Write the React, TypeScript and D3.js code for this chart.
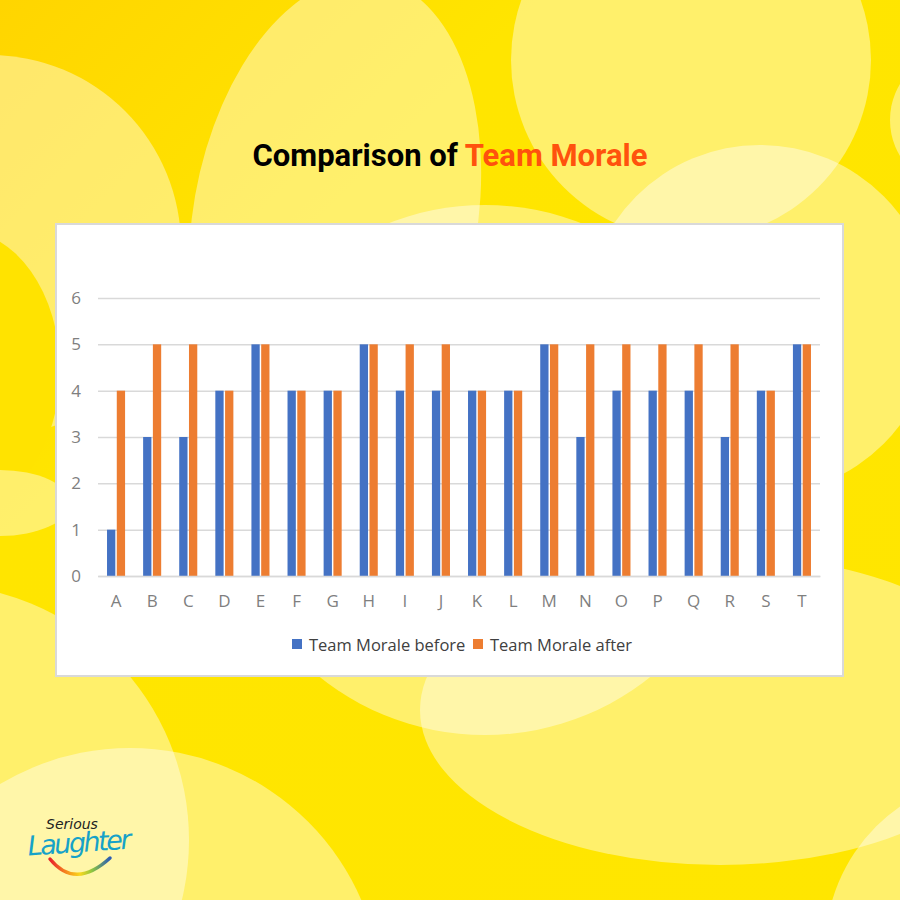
import { useEffect, useRef } from 'react';
import { scaleBand, scaleLinear, select, axisLeft, axisBottom } from 'd3';

// chart data
const categories = ['A', 'B', 'C', 'D', 'E', 'F', 'G', 'H', 'I', 'J', 'K', 'L', 'M', 'N', 'O', 'P', 'Q', 'R', 'S', 'T'];
const seriesNames = ['Team Morale before', 'Team Morale after'];
const moraleBefore = [1, 3, 3, 4, 5, 4, 4, 5, 4, 4, 4, 4, 5, 3, 4, 4, 4, 3, 4, 5];
const moraleAfter = [4, 5, 5, 4, 5, 4, 4, 5, 5, 5, 4, 4, 5, 5, 5, 5, 5, 5, 4, 5];
const yTicks = [0, 1, 2, 3, 4, 5, 6];

const seriesColors = ['#4472C4', '#ED7D31'];

// decorative background bubbles: [cx, cy, rx, ry, rotate, fill, opacity]
const bubbles: [number, number, number, number, number, string, number][] = [
  [-10, 246, 191, 191, 0, '#fff', 0.42],
  [-40, 370, 100, 140, 0, '#FFE300', 1],
  [0, 503, 70, 33, 0, '#fff', 0.42],
  [335, 220, 142, 245, 10, '#fff', 0.42],
  [691, 60, 180, 180, 0, '#fff', 0.42],
  [960, 120, 70, 70, 0, '#fff', 0.42],
  [760, 320, 175, 175, 0, '#fff', 0.42],
  [485, 470, 265, 265, 0, '#fff', 0.42],
  [-67, 840, 256, 256, 0, '#fff', 0.42],
  [130, 1000, 252, 252, 0, '#fff', 0.42],
  [720, 710, 300, 155, 0, '#fff', 0.42],
  [1000, 950, 175, 175, 0, '#fff', 0.42],
];

export default function App() {
  const svgRef = useRef<SVGSVGElement>(null);

  useEffect(() => {
    const el = svgRef.current;
    if (!el) return;
    const svg = select(el);
    svg.selectAll('*').remove();

    const W = 900,
      H = 900;

    // background
    const defs = svg.append('defs');
    const bg = defs
      .append('linearGradient')
      .attr('id', 'bg')
      .attr('x1', '0')
      .attr('y1', '0')
      .attr('x2', '1')
      .attr('y2', '1');
    bg.append('stop').attr('offset', '0').attr('stop-color', '#FFD500');
    bg.append('stop').attr('offset', '0.3').attr('stop-color', '#FFE500');
    bg.append('stop').attr('offset', '1').attr('stop-color', '#FFE600');

    const smile = defs
      .append('linearGradient')
      .attr('id', 'smile')
      .attr('x1', '0')
      .attr('y1', '0')
      .attr('x2', '1')
      .attr('y2', '0');
    [
      ['0', '#E8202A'],
      ['0.3', '#F7941D'],
      ['0.5', '#F9D71C'],
      ['0.7', '#8DC63F'],
      ['1', '#2B5BB5'],
    ].forEach(([o, c]) => smile.append('stop').attr('offset', o).attr('stop-color', c));

    svg.append('rect').attr('width', W).attr('height', H).attr('fill', 'url(#bg)');

    svg
      .append('g')
      .selectAll('ellipse')
      .data(bubbles)
      .join('ellipse')
      .attr('cx', (d) => d[0])
      .attr('cy', (d) => d[1])
      .attr('rx', (d) => d[2])
      .attr('ry', (d) => d[3])
      .attr('transform', (d) => `rotate(${d[4]},${d[0]},${d[1]})`)
      .attr('fill', (d) => d[5])
      .attr('opacity', (d) => d[6]);

    // title
    const title = svg
      .append('text')
      .attr('x', W / 2)
      .attr('y', 166)
      .attr('text-anchor', 'middle')
      .style('font-family', 'Roboto, sans-serif')
      .style('font-weight', '700')
      .style('font-size', '31px');
    title.append('tspan').attr('fill', '#000').text('Comparison of ');
    title.append('tspan').attr('fill', '#FF520D').text('Team Morale');

    // chart panel
    svg
      .append('rect')
      .attr('x', 56)
      .attr('y', 224)
      .attr('width', 787)
      .attr('height', 452)
      .attr('fill', '#fff')
      .attr('stroke', '#D9D9D9')
      .attr('stroke-width', 2);

    const left = 98,
      right = 820,
      top = 298,
      bottom = 576;

    const x0 = scaleBand<string>()
      .domain(categories)
      .range([left, right])
      .paddingInner(0.5)
      .paddingOuter(0.25);
    const x1 = scaleBand<string>()
      .domain(seriesNames)
      .range([0, x0.bandwidth()])
      .paddingInner(0.15);
    const y = scaleLinear().domain([0, 6]).range([bottom, top]);

    // gridlines + y labels
    const yAxis = svg
      .append('g')
      .attr('transform', `translate(${left},0)`)
      .call(
        axisLeft(y)
          .tickValues(yTicks)
          .tickSize(-(right - left))
          .tickPadding(17)
          .tickFormat((d) => String(d))
      );
    yAxis.select('.domain').remove();
    yAxis.selectAll('line').attr('stroke', '#D9D9D9').attr('stroke-width', 1.5);
    yAxis
      .selectAll('text')
      .attr('fill', '#7F7F7F')
      .style('font-family', '"Open Sans", sans-serif')
      .style('font-size', '17px');

    // bars
    const values = [moraleBefore, moraleAfter];
    const groups = svg
      .append('g')
      .selectAll('g')
      .data(categories)
      .join('g')
      .attr('transform', (d) => `translate(${x0(d)},0)`);
    groups
      .selectAll('rect')
      .data((_, i) => seriesNames.map((s, k) => ({ s, k, v: values[k][i] })))
      .join('rect')
      .attr('x', (d) => x1(d.s) ?? 0)
      .attr('width', x1.bandwidth())
      .attr('y', (d) => y(d.v))
      .attr('height', (d) => bottom - y(d.v))
      .attr('fill', (d) => seriesColors[d.k]);

    // x axis
    const xAxis = svg
      .append('g')
      .attr('transform', `translate(0,${bottom})`)
      .call(axisBottom(x0).tickSize(0).tickPadding(19));
    xAxis.select('.domain').attr('stroke', '#D9D9D9').attr('stroke-width', 1.5);
    xAxis
      .selectAll('text')
      .attr('fill', '#7F7F7F')
      .style('font-family', '"Open Sans", sans-serif')
      .style('font-size', '17px');

    // legend
    const legendX = [292, 473];
    const legend = svg
      .append('g')
      .selectAll('g')
      .data(seriesNames)
      .join('g')
      .attr('transform', (_, i) => `translate(${legendX[i]},639)`);
    legend
      .append('rect')
      .attr('width', 10)
      .attr('height', 10)
      .attr('fill', (_, i) => seriesColors[i]);
    legend
      .append('text')
      .attr('x', 17)
      .attr('y', 12)
      .attr('fill', '#404040')
      .style('font-family', '"Open Sans", sans-serif')
      .style('font-size', '16.5px')
      .text((d) => d);

    // logo
    const logo = svg.append('g');
    logo
      .append('text')
      .attr('x', 46)
      .attr('y', 829)
      .attr('fill', '#222')
      .style('font-family', '"DejaVu Sans", sans-serif')
      .style('font-style', 'italic')
      .style('font-size', '14px')
      .text('Serious');
    logo
      .append('text')
      .attr('x', 28)
      .attr('y', 852)
      .attr('fill', '#16A2C8')
      .attr('transform', 'rotate(-4,80,850)')
      .style('font-family', '"DejaVu Sans", sans-serif')
      .style('font-style', 'italic')
      .style('font-size', '27px')
      .attr('textLength', 104)
      .text('Laughter');
    logo
      .append('path')
      .attr('d', 'M50,859 Q75,890 110,858')
      .attr('fill', 'none')
      .attr('stroke', 'url(#smile)')
      .attr('stroke-width', 3.5)
      .attr('stroke-linecap', 'round');
  }, []);

  return (
    <svg
      ref={svgRef}
      width={900}
      height={900}
      style={{ position: 'absolute', left: 0, top: 0, display: 'block' }}
    />
  );
}
